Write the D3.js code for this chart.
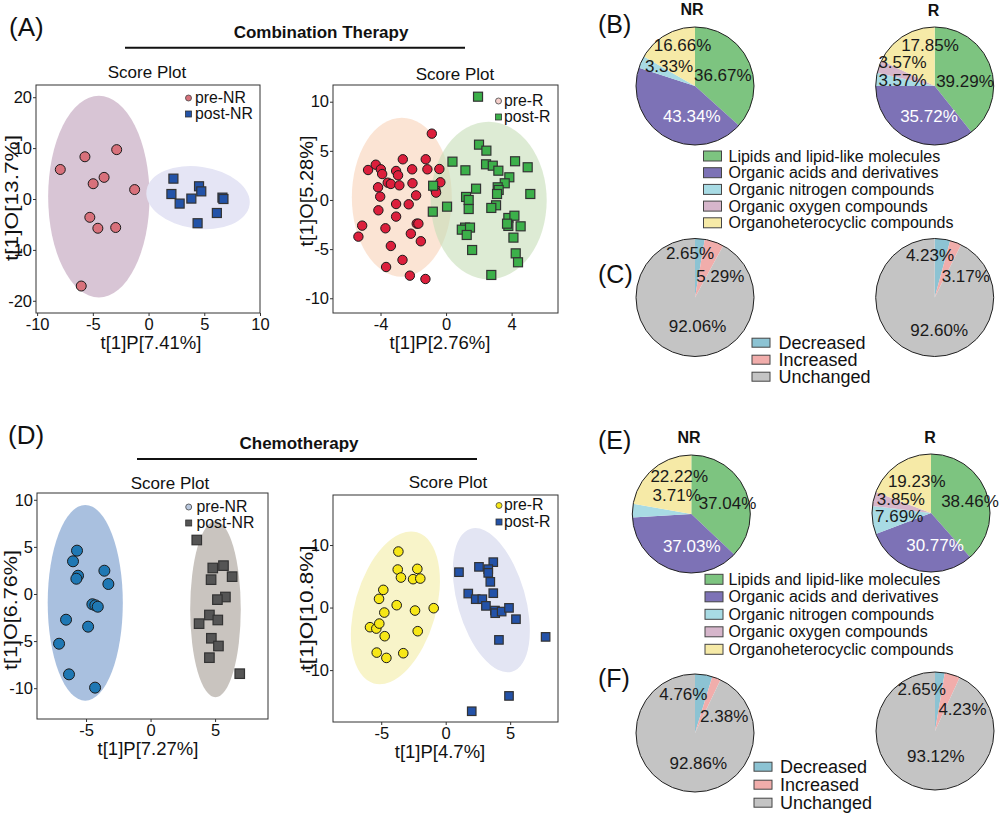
<!DOCTYPE html>
<html><head><meta charset="utf-8">
<script src="https://cdn.jsdelivr.net/npm/d3@7"></script>
<style>
body{margin:0;background:#fff}
svg{display:block}
text{font-family:"Liberation Sans",Arial,sans-serif;fill:#111}
</style>
</head><body>
<svg id="c" width="1000" height="813"></svg>
<script>
// ---------------- DATA ----------------
// Panel A (Combination therapy) score plots
const aPreNR  = [[-7.92,5.8],[-5.71,8.3],[-2.86,9.7],[-3.99,4.25],[-4.97,3.0],[-1.25,1.85],[-5.27,-3.6],[-4.55,-5.75],[-2.95,-5.6],[-6.04,-17.1]];
const aPostNR = [[2.23,4.0],[4.53,2.5],[4.73,1.5],[2.05,0.98],[3.84,0.08],[2.79,-0.9],[6.63,0.27],[6.72,0.0],[6.13,-2.75],[4.40,-4.76]];
const aPreR = [[-0.87,6.75],[-4.76,3.05],[-4.29,3.59],[-3.98,3.12],[-3.90,2.64],[-2.64,4.14],[-3.05,2.95],[-2.93,2.51],[-2.07,3.12],[-1.24,4.14],[-1.14,3.12],[-0.41,3.15],[-4.15,1.29],[-3.56,1.76],[-3.37,1.63],[-2.85,1.49],[-2.05,1.70],[-0.35,1.80],[-0.65,1.02],[-0.61,0.75],[-4.02,0.34],[-1.83,0.47],[-3.05,-0.41],[-2.28,-0.44],[-4.13,-1.05],[-3.05,-1.69],[-5.12,-2.61],[-3.70,-2.88],[-1.79,-2.41],[-1.69,-2.41],[-5.35,-3.73],[-2.15,-3.43],[-3.37,-4.68],[-1.54,-4.20],[-2.66,-6.10],[-3.66,-6.82],[-2.21,-7.70],[-1.26,-8.04]];
const aPostR = [[1.95,10.51],[2.01,5.63],[2.46,5.02],[0.39,3.90],[1.18,3.02],[2.44,3.63],[2.85,3.49],[3.19,2.98],[4.21,3.94],[4.98,3.33],[3.86,2.31],[3.58,1.70],[3.15,1.29],[3.21,1.02],[3.11,0.61],[5.14,0.61],[1.83,1.15],[-0.79,1.45],[1.22,0.31],[1.38,0.0],[0.06,-0.68],[-0.81,-1.19],[1.38,-0.92],[3.05,-0.54],[2.76,-0.81],[3.80,-1.83],[4.17,-1.60],[4.55,-2.68],[3.80,-2.64],[3.72,-2.41],[1.16,-2.81],[0.96,-3.02],[1.46,-2.81],[1.26,-3.56],[1.59,-5.09],[4.11,-3.83],[4.25,-5.43],[4.39,-6.34],[2.76,-7.63]];
// Panel D (Chemotherapy) score plots
const dPreNR  = [[-5.70,4.60],[-6.01,3.47],[-5.62,1.94],[-5.75,1.62],[-3.58,2.47],[-3.27,1.06],[-4.51,-1.09],[-4.28,-1.20],[-4.09,-1.35],[-6.55,-2.73],[-4.84,-3.47],[-7.09,-5.28],[-6.32,-8.53],[-4.30,-9.94]];
const dPostNR = [[3.58,5.73],[5.65,3.01],[4.82,2.76],[6.32,1.84],[4.69,1.52],[5.80,-0.32],[5.18,-0.60],[4.56,-2.23],[5.21,-2.76],[3.76,-3.15],[4.71,-4.70],[5.26,-5.52],[4.56,-6.76],[6.91,-8.46]];
const dPreR = [[-3.67,8.96],[-3.72,6.08],[-2.20,6.19],[-3.47,4.80],[-2.53,4.54],[-1.97,4.64],[-4.84,2.83],[-5.17,1.39],[-3.80,0.38],[-0.93,-0.10],[-2.38,-0.48],[-4.76,-0.80],[-5.87,-3.14],[-5.38,-3.36],[-5.15,-2.56],[-2.17,-3.78],[-4.73,-4.58],[-5.35,-7.20],[-4.60,-8.05],[-3.29,-7.30]];
const dPostR = [[1.03,5.66],[2.58,6.51],[3.69,7.26],[3.30,6.14],[3.30,5.55],[3.46,4.11],[3.69,2.30],[1.75,2.24],[2.33,1.34],[2.84,1.34],[3.12,0.27],[3.82,-0.48],[3.84,-0.90],[4.34,-0.64],[4.91,-0.05],[5.45,-1.86],[4.13,-5.17],[7.75,-4.69],[4.91,-14.13],[2.02,-16.58]];
// confidence ellipses: [cx, cy, rx, ry, rotation deg] in data units
const aEllNR = [[-4.46,0.47,4.55,19.8,0],[4.44,0.27,4.67,6.1,8]];
const aEllR  = [[-2.70,0.28,3.05,8.09,0],[2.60,-0.05,3.54,8.02,0]];
const dEllNR = [[-5.06,-0.94,2.91,10.39,0],[5.03,-1.61,1.96,9.36,0]];
const dEllR  = [[-3.90,-0.05,3.14,12.56,16],[3.54,1.18,2.63,11.9,-16]];
// tick values
const aNRxTicks=[-10,-5,0,5,10], aNRyTicks=[-20,-10,0,10,20];
const aRxTicks=[-4,0,4], aRyTicks=[-10,-5,0,5,10];
const dNRxTicks=[-5,0,5], dNRyTicks=[-10,-5,0,5,10];
const dRxTicks=[-5,0,5], dRyTicks=[-10,0,10];
// pies
const classCats = ["Lipids and lipid-like molecules","Organic acids and derivatives","Organic nitrogen compounds","Organic oxygen compounds","Organoheterocyclic compounds"];
const changeCats = ["Decreased","Increased","Unchanged"];
const pieB_NR = [36.67,43.34,3.33,0,16.66];
const pieB_R  = [39.29,35.72,3.57,3.57,17.85];
const pieC_NR = [2.65,5.29,92.06];
const pieC_R  = [4.23,3.17,92.60];
const pieE_NR = [37.04,37.03,3.71,0,22.22];
const pieE_R  = [38.46,30.77,7.69,3.85,19.23];
const pieF_NR = [4.76,2.38,92.86];
const pieF_R  = [2.65,4.23,93.12];

// ---------------- STYLE / LAYOUT ----------------
const FONT='"Liberation Sans",Arial,sans-serif';
const classColors=['#7dc480','#7d72b6','#a8dbe4','#d6b6cb','#f6eaa7'];
const changeColors=['#8cc3d3','#f1adab','#c4c4c4'];
const svg=d3.select('#c');

const plots=[
 {box:[36,85,260,313], xd:[-10.1,10.0], yd:[-22.4,22.4], xt:aNRxTicks, yt:aNRyTicks,
  xlab:'t[1]P[7.41%]', ylab:'t[1]O[13.7%]', xlabX:151, ylabX:12, ylabY:198, ylabLen:126, title:[147,72],
  ell:aEllNR, ellFill:['#d8c5d5','#e5e5f5'], ellOp:[1,1],
  series:[{d:aPreNR,shape:'c',size:5,fill:'#d8717b'},{d:aPostNR,shape:'s',size:9,fill:'#2353a8'}],
  leg:{mx:188.5,tx:195,ys:[97,113],names:['pre-NR','post-NR'],fills:['#d8717b','#2353a8']}},
 {box:[333,85,558,313], xd:[-6.9,6.83], yd:[-11.5,11.7], xt:aRxTicks, yt:aRyTicks,
  xlab:'t[1]P[2.76%]', ylab:'t[1]O[5.28%]', xlabX:440, ylabX:307, ylabY:191, ylabLen:111, title:[455,74],
  ell:aEllR, ellFill:['#f8d2b7','#c6deb7'], ellOp:[0.6,0.6],
  series:[{d:aPreR,shape:'c',size:4.7,fill:'#dc1f3c'},{d:aPostR,shape:'s',size:9,fill:'#3cb04a'}],
  leg:{mx:498.5,tx:504,ys:[100,116],names:['pre-R','post-R'],fills:['#f6d0cc','#3cb04a']}},
 {box:[37,493,268,719], xd:[-8.8,9.1], yd:[-13.27,10.72], xt:dNRxTicks, yt:dNRyTicks,
  xlab:'t[1]P[7.27%]', ylab:'t[1]O[6.76%]', xlabX:148, ylabX:11, ylabY:610, ylabLen:120, title:[170,483],
  ell:dEllNR, ellFill:['#a9c0df','#c9c4bf'], ellOp:[1,1],
  series:[{d:dPreNR,shape:'c',size:5.5,fill:'#1f78b4'},{d:dPostNR,shape:'s',size:9.5,fill:'#555555'}],
  leg:{mx:188.7,tx:196.5,ys:[506,522],names:['pre-NR','post-NR'],fills:['#b9c8df','#555555']}},
 {box:[333,495,558,722], xd:[-8.74,8.71], yd:[-18.3,18.0], xt:dRxTicks, yt:dRyTicks,
  xlab:'t[1]P[4.7%]', ylab:'t[1]O[10.8%]', xlabX:440, ylabX:307, ylabY:608, ylabLen:125, title:[448,482],
  ell:dEllR, ellFill:['#f8f4c9','#e3e5f3'], ellOp:[1,1],
  series:[{d:dPreR,shape:'c',size:4.8,fill:'#f7e717'},{d:dPostR,shape:'s',size:8.5,fill:'#2352a8'}],
  leg:{mx:499,tx:504,ys:[504.5,521],names:['pre-R','post-R'],fills:['#f7e717','#2352a8']}}
];

function scatter(p){
  const [x0,y0,x1,y1]=p.box;
  const xs=d3.scaleLinear().domain(p.xd).range([x0,x1]);
  const ys=d3.scaleLinear().domain(p.yd).range([y1,y0]);
  const g=svg.append('g');
  p.ell.forEach((e,i)=>{
    const cx=xs(e[0]), cy=ys(e[1]);
    g.append('ellipse').attr('transform',`translate(${cx},${cy}) rotate(${e[4]})`)
     .attr('rx',Math.abs(xs(e[0]+e[2])-cx)).attr('ry',Math.abs(ys(e[1]+e[3])-cy))
     .attr('fill',p.ellFill[i]).attr('fill-opacity',p.ellOp[i]);
  });
  p.series.forEach(s=>{
    if(s.shape==='c'){
      g.selectAll(null).data(s.d).join('circle')
       .attr('cx',d=>xs(d[0])).attr('cy',d=>ys(d[1])).attr('r',s.size)
       .attr('fill',s.fill).attr('stroke','#1a1a1a').attr('stroke-width',1);
    } else {
      g.selectAll(null).data(s.d).join('rect')
       .attr('x',d=>xs(d[0])-s.size/2).attr('y',d=>ys(d[1])-s.size/2)
       .attr('width',s.size).attr('height',s.size)
       .attr('fill',s.fill).attr('stroke','#333').attr('stroke-width',1.2);
    }
  });
  g.append('rect').attr('x',x0).attr('y',y0).attr('width',x1-x0).attr('height',y1-y0)
   .attr('fill','none').attr('stroke','#333').attr('stroke-width',1);
  const ax=g.append('g').attr('transform',`translate(0,${y1})`)
   .call(d3.axisBottom(xs).tickValues(p.xt).tickSize(3).tickPadding(2).tickFormat(d=>String(d)));
  const ay=g.append('g').attr('transform',`translate(${x0},0)`)
   .call(d3.axisLeft(ys).tickValues(p.yt).tickSize(3).tickPadding(1).tickFormat(d=>String(d)));
  [ax,ay].forEach(a=>{
    a.select('.domain').remove();
    a.attr('font-family',FONT).attr('font-size',16.5);
    a.selectAll('line').attr('stroke','#333');
    a.selectAll('text').attr('fill','#111');
  });
  g.append('text').attr('x',p.xlabX).attr('y',y1+29).attr('text-anchor','middle')
   .attr('dominant-baseline','central').attr('font-size',18.5).text(p.xlab);
  g.append('text').attr('transform',`translate(${p.ylabX},${p.ylabY}) rotate(-90)`)
   .attr('text-anchor','middle').attr('dominant-baseline','central').attr('font-size',17.5)
   .attr('textLength',p.ylabLen).attr('lengthAdjust','spacingAndGlyphs').text(p.ylab);
  g.append('text').attr('x',p.title[0]).attr('y',p.title[1]).attr('text-anchor','middle')
   .attr('dominant-baseline','central').attr('font-size',17).text('Score Plot');
  const L=p.leg;
  L.names.forEach((n,i)=>{
    if(i===0) g.append('circle').attr('cx',L.mx).attr('cy',L.ys[i]+1).attr('r',3)
      .attr('fill',L.fills[i]).attr('stroke','#444').attr('stroke-width',0.8);
    else g.append('rect').attr('x',L.mx-3).attr('y',L.ys[i]-2).attr('width',6).attr('height',6)
      .attr('fill',L.fills[i]).attr('stroke','#333').attr('stroke-width',0.8);
    g.append('text').attr('x',L.tx).attr('y',L.ys[i]).attr('dominant-baseline','central')
     .attr('font-size',15.8).text(n);
  });
}
plots.forEach(scatter);

// headers
svg.append('text').attr('x',9).attr('y',27).attr('dominant-baseline','central').attr('font-size',26).text('(A)');
svg.append('text').attr('x',8).attr('y',435).attr('dominant-baseline','central').attr('font-size',26).text('(D)');
svg.append('text').attr('x',321).attr('y',32.5).attr('text-anchor','middle').attr('dominant-baseline','central')
  .attr('font-size',17).attr('font-weight','bold').text('Combination Therapy');
svg.append('line').attr('x1',125).attr('x2',465).attr('y1',47.7).attr('y2',47.7).attr('stroke','#111').attr('stroke-width',2);
svg.append('text').attr('x',299).attr('y',443).attr('text-anchor','middle').attr('dominant-baseline','central')
  .attr('font-size',17).attr('font-weight','bold').text('Chemotherapy');
svg.append('line').attr('x1',137).attr('x2',477).attr('y1',459).attr('y2',459).attr('stroke','#111').attr('stroke-width',2);

// pies
const R=59;
const pieGen=d3.pie().sort(null).value(d=>d);
const arcGen=d3.arc().innerRadius(0).outerRadius(R);
const pies=[
 {v:pieB_NR,c:classColors,at:[695,86],lab:[[27.8,-11],[-3.3,30.7],[-26,-20],null,[-12.5,-41]],white:1},
 {v:pieB_R, c:classColors,at:[934.7,86],lab:[[30.3,-4.3],[-5.7,30.7],[-32.2,-5.3],[-32.2,-23.3],[-4.7,-41]],white:1},
 {v:pieC_NR,c:changeColors,at:[695,297.5],lab:[[-5,-44.2],[25.3,-20.8],[2.5,29.2]],white:-1},
 {v:pieC_R, c:changeColors,at:[934.7,297.5],lab:[[-4.7,-42.5],[31.1,-20.8],[4.5,32.5]],white:-1},
 {v:pieE_NR,c:classColors,at:[691.3,514],lab:[[36.2,-10.7],[0.4,32.7],[-14.6,-19],null,[-12.1,-37.3]],white:1},
 {v:pieE_R, c:classColors,at:[931,513],lab:[[39,-11.3],[4,32],[-31.8,3],[-30.2,-13.7],[-14.3,-31.3]],white:1},
 {v:pieF_NR,c:changeColors,at:[695,733],lab:[[-11.7,-38.3],[29.2,-16.6],[3.3,30]],white:-1},
 {v:pieF_R, c:changeColors,at:[935,731],lab:[[-13.3,-41.7],[27.5,-21.7],[0.8,25]],white:-1}
];
pies.forEach(p=>{
  const g=svg.append('g').attr('transform',`translate(${p.at[0]},${p.at[1]})`);
  g.selectAll(null).data(pieGen(p.v)).join('path').attr('d',arcGen).attr('fill',(d,i)=>p.c[i]);
  g.append('circle').attr('r',R).attr('fill','none').attr('stroke','#222').attr('stroke-width',1);
  p.v.forEach((v,i)=>{
    if(!v||!p.lab[i]) return;
    g.append('text').attr('x',p.lab[i][0]).attr('y',p.lab[i][1]).attr('text-anchor','middle')
     .attr('dominant-baseline','central').attr('font-size',17)
     .style('fill',i===p.white?'#fff':'#1a1a1a').text(v.toFixed(2)+'%');
  });
});
// pie titles & panel labels
[['NR',692,9.5],['R',933.5,10],['NR',689,437],['R',930,437]].forEach(t=>{
  svg.append('text').attr('x',t[1]).attr('y',t[2]).attr('text-anchor','middle').attr('dominant-baseline','central')
   .attr('font-size',16).attr('font-weight','bold').text(t[0]);
});
[['(B)',598,24],['(C)',598,274],['(E)',598,440],['(F)',598,677.5]].forEach(t=>{
  svg.append('text').attr('x',t[1]).attr('y',t[2]).attr('dominant-baseline','central').attr('font-size',25).text(t[0]);
});
// legends
function legend(cats,cols,x,tx,y0,step,fs,h){
  cats.forEach((c,i)=>{
    const y=y0+i*step;
    svg.append('rect').attr('x',x).attr('y',y-h/2).attr('width',18).attr('height',h)
     .attr('fill',cols[i]).attr('stroke','#444').attr('stroke-width',1);
    svg.append('text').attr('x',tx).attr('y',y).attr('dominant-baseline','central').attr('font-size',fs).text(c);
  });
}
legend(classCats,classColors,703.5,728.5,156,16.7,16,10);
legend(changeCats,changeColors,752,778.5,342.7,17,18,9);
legend(classCats,classColors,705,728.5,579.3,17.5,16,10);
legend(changeCats,changeColors,754,780,766.7,18,18,9);
</script>
</body></html>
